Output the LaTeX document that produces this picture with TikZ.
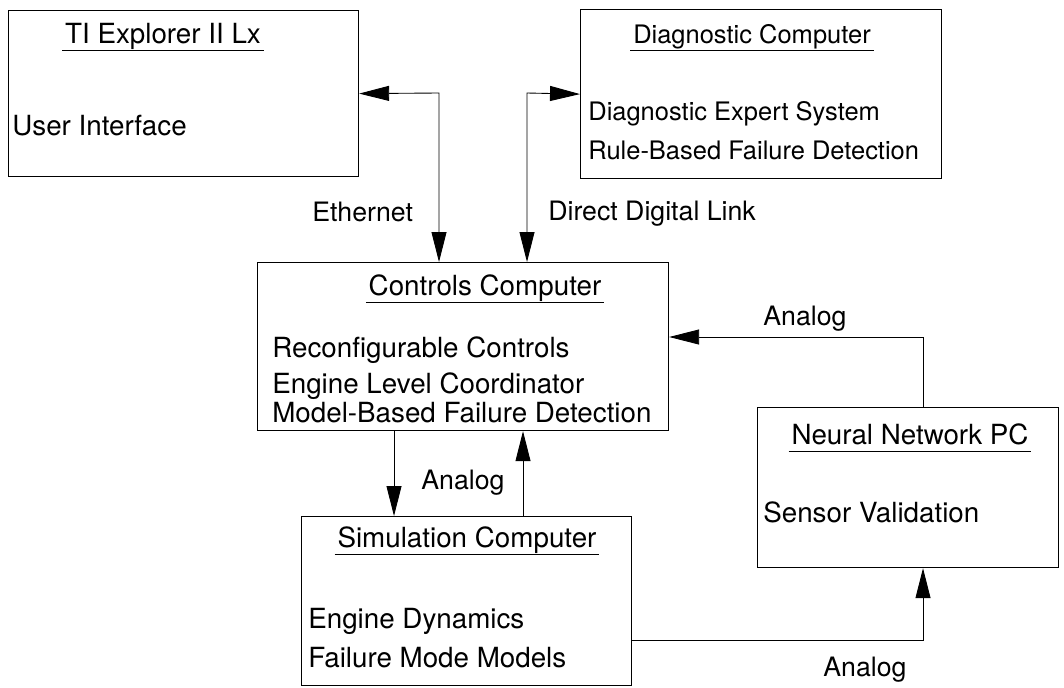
\documentclass[tikz,border=0pt]{standalone}
\usepackage{fontspec}
\setmainfont{TeX Gyre Heros}
\usetikzlibrary{arrows.meta}

\tikzset{
  box/.style={draw, line width=0.7pt, anchor=north west, inner sep=0pt},
  boxtitle/.style={anchor=base, inner xsep=1.5pt, inner ysep=1pt, text depth=0.3em},
  boxitem/.style={anchor=base west, inner sep=0pt},
  linktext/.style={anchor=base west, inner sep=0pt, font=\fontsize{15.2}{18}\selectfont},
  smalltext/.style={font=\fontsize{14.5}{17}\selectfont},
  link/.style={line width=0.5pt, {Triangle[length=0.6cm,width=0.3cm]}-{Triangle[length=0.6cm,width=0.3cm]}},
  onelink/.style={line width=0.5pt, -{Triangle[length=0.6cm,width=0.3cm]}},
  every node/.style={font=\fontsize{15.8}{18}\selectfont}
}

\begin{document}
\begin{tikzpicture}[x=0.02cm, y=-0.02cm]
    \useasboundingbox (0,0) rectangle (1064,687);

    % Boxes
    \node[box, minimum width=7cm, minimum height=3.32cm] (ti) at (8,10) {};
    \node[box, minimum width=7.22cm, minimum height=3.38cm] (diag) at (580,9) {};
    \node[box, minimum width=8.22cm, minimum height=3.36cm] (ctrl) at (257,262) {};
    \node[box, minimum width=6.6cm, minimum height=3.38cm] (sim) at (301,516) {};
    \node[box, minimum width=6.02cm, minimum height=3.2cm] (nn) at (757,407) {};

    % Titles with underline
    \node[boxtitle] (tiTitle) at (163,43) {TI Explorer II Lx};
    \node[boxtitle, smalltext] (diagTitle) at (752,43) {Diagnostic Computer};
    \node[boxtitle] (ctrlTitle) at (485,295) {Controls Computer};
    \node[boxtitle] (simTitle) at (467,547) {Simulation Computer};
    \node[boxtitle] (nnTitle) at (910,444) {Neural Network PC};
    \foreach \t in {tiTitle, diagTitle, ctrlTitle, simTitle, nnTitle} {
        \draw[line width=0.5pt] (\t.south west) -- (\t.south east);
    }

    % Box contents
    \node[boxitem] (tiUser) at (12,135) {User Interface};
    \node[boxitem, smalltext] (diagExpert) at (588,120) {Diagnostic Expert System};
    \node[boxitem, smalltext] (diagRule) at (588,159) {Rule-Based Failure Detection};
    \node[boxitem] (ctrlReconf) at (272,357) {Reconfigurable Controls};
    \node[boxitem] (ctrlCoord) at (272,393) {Engine Level Coordinator};
    \node[boxitem] (ctrlModel) at (272,422) {Model-Based Failure Detection};
    \node[boxitem] (simDyn) at (308,628) {Engine Dynamics};
    \node[boxitem] (simModes) at (308,667) {Failure Mode Models};
    \node[boxitem] (nnSensor) at (763,522) {Sensor Validation};

    % Bend points
    \coordinate (ethBend) at (439,93);
    \coordinate (ddlBend) at (527,93);
    \coordinate (nnUp) at (923,337);
    \coordinate (simRight) at (923,640);
    \coordinate (ctrlDown) at (394,0);
    \coordinate (simUp) at (523,0);

    % Connectors
    \draw[link] (ti.east) -- (ethBend) -- (ctrl.north -| ethBend);
    \draw[link] (diag.west) -- (ddlBend) -- (ctrl.north -| ddlBend);
    \draw[onelink] (nn.north -| nnUp) -- (nnUp) -- (ctrl.east |- nnUp);
    \draw[onelink] (ctrl.south -| ctrlDown) -- (sim.north -| ctrlDown);
    \draw[onelink] (sim.north -| simUp) -- (ctrl.south -| simUp);
    \draw[onelink] (sim.east |- simRight) -- (simRight) -- (nn.south -| simRight);

    % Link labels
    \node[linktext] (ethText) at (312,221) {Ethernet};
    \node[linktext] (ddlText) at (548,220) {Direct Digital Link};
    \node[linktext] (nnText) at (763,325) {Analog};
    \node[linktext] (simText) at (421,489) {Analog};
    \node[linktext] (outText) at (823,676) {Analog};
\end{tikzpicture}
\end{document}
